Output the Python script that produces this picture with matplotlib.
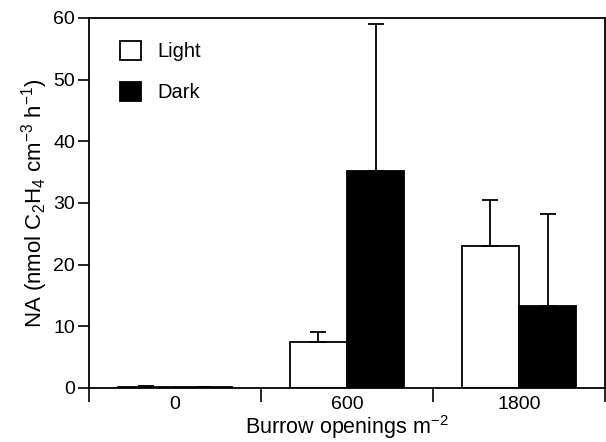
import numpy as np
import matplotlib
matplotlib.use("Agg")
import matplotlib.pyplot as plt

plt.rcParams["font.family"] = ["Liberation Sans", "DejaVu Sans"]
plt.rcParams["mathtext.default"] = "regular"

groups = ["0", "600", "1800"]
light = [0.2, 7.5, 23.1]
light_err = [0.15, 1.6, 7.4]
dark = [0.1, 35.2, 13.3]
dark_err = [0.05, 23.8, 14.9]

fig = plt.figure(figsize=(6.06, 4.42), dpi=100)
ax = fig.add_axes([0.1469, 0.1222, 0.8515, 0.8371])

x = np.arange(len(groups)) + 0.5
w = 0.333
err_kw = dict(ecolor="black", elinewidth=1.3, capsize=6, capthick=1.3)
ax.bar(x - w / 2, light, w, color="white", edgecolor="black", linewidth=1.3,
       yerr=[np.zeros(3), light_err], error_kw=err_kw, label="Light")
ax.bar(x + w / 2, dark, w, color="black", edgecolor="black", linewidth=1.3,
       yerr=[np.zeros(3), dark_err], error_kw=err_kw, label="Dark")

ax.set_xlim(0, 3)
ax.set_ylim(0, 60)
ax.set_yticks([0, 10, 20, 30, 40, 50, 60])
ax.set_xticks(x)
ax.set_xticklabels(groups)
ax.set_xticks([0, 1, 2, 3], minor=True)
ax.tick_params(axis="x", which="major", length=0, labelsize=14, pad=6)
ax.tick_params(axis="x", which="minor", length=10, width=1.2, direction="out")
ax.tick_params(axis="y", length=8, width=1.2, labelsize=14, pad=2)
for s in ax.spines.values():
    s.set_linewidth(1.3)

ax.set_xlabel("Burrow openings m$^{\u22122}$", fontsize=15.5, labelpad=0)
ax.set_ylabel("NA (nmol C$_2$H$_4$ cm$^{\u22123}$ h$^{\u22121}$)", fontsize=16, labelpad=2)

ax.legend(loc="upper left", bbox_to_anchor=(0.060, 0.938), frameon=False,
          fontsize=14.5, handlelength=1.05, handleheight=1.1,
          handletextpad=0.8, labelspacing=1.0, borderaxespad=0, borderpad=0)

plt.savefig("out.png", dpi=100)
